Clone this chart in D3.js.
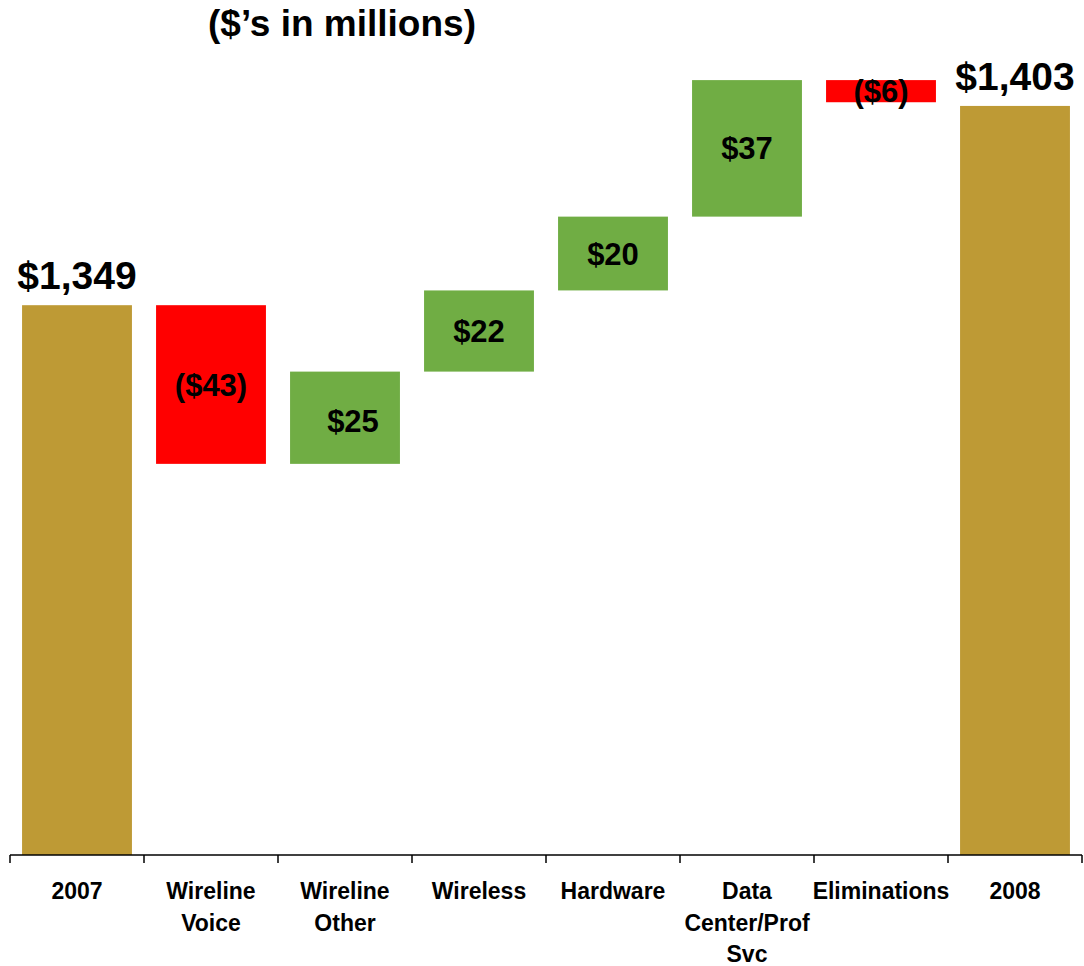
<!DOCTYPE html>
<html>
<head>
<meta charset="utf-8">
<script src="https://cdn.jsdelivr.net/npm/d3@7"></script>
<style>
  html, body { margin: 0; padding: 0; background: #fff; }
  svg { display: block; font-family: "Liberation Sans", Arial, sans-serif; font-weight: bold; }
</style>
</head>
<body>
<svg id="chart" width="1084" height="966"></svg>
<script>
// Revenue bridge, 2007 to 2008 ($ in millions)
const categories = ["2007", "Wireline Voice", "Wireline Other", "Wireless", "Hardware", "Data Center/Prof Svc", "Eliminations", "2008"];
const categoryLines = [["2007"], ["Wireline", "Voice"], ["Wireline", "Other"], ["Wireless"], ["Hardware"], ["Data", "Center/Prof", "Svc"], ["Eliminations"], ["2008"]];
const values = [1349, -43, 25, 22, 20, 37, -6, 1403];
const kinds = ["total", "delta", "delta", "delta", "delta", "delta", "delta", "total"];
const valueLabels = ["$1,349", "($43)", "$25", "$22", "$20", "$37", "($6)", "$1,403"];

const colors = { total: "#BE9A35", up: "#70AD44", down: "#FF0000" };

// Build running start/end for each step of the bridge
let running = 0;
const bars = categories.map((c, i) => {
  let y0, y1;
  if (kinds[i] === "total") { y0 = 1200; y1 = values[i]; running = values[i]; }
  else { y0 = running; y1 = running + values[i]; running = y1; }
  return { cat: c, lines: categoryLines[i], kind: kinds[i], v: values[i], y0, y1, label: valueLabels[i] };
});

const svg = d3.select("#chart");
const baseY = 855;

const x = d3.scaleBand().domain(categories).range([10, 1082]).paddingInner(0.18).paddingOuter(0.09);
const y = d3.scaleLinear().domain([1200, 1410]).range([baseY, baseY - 210 * 3.69]);

// Title
svg.append("text")
  .attr("x", 342).attr("y", 36)
  .attr("text-anchor", "middle")
  .attr("font-size", 37)
  .text("($\u2019s in millions)");

// Bars
svg.append("g").selectAll("rect").data(bars).join("rect")
  .attr("x", d => x(d.cat))
  .attr("width", x.bandwidth())
  .attr("y", d => y(Math.max(d.y0, d.y1)))
  .attr("height", d => Math.abs(y(d.y0) - y(d.y1)))
  .attr("fill", d => d.kind === "total" ? colors.total : (d.v >= 0 ? colors.up : colors.down));

// Value labels: totals sit above the bar, steps are centred inside
svg.append("g").selectAll("text").data(bars).join("text")
  .attr("text-anchor", "middle")
  .attr("x", d => x(d.cat) + x.bandwidth() / 2 + (d.cat === "Wireline Other" ? 8 : 0))
  .attr("y", d => d.kind === "total"
    ? y(d.y1) - 16
    : (y(d.y0) + y(d.y1)) / 2 + 11 + (d.cat === "Wireline Other" ? 3 : 0))
  .attr("font-size", d => d.kind === "total" ? 39 : 31)
  .attr("fill", "#000")
  .text(d => d.label);

// Category axis with ticks at band boundaries
const axis = svg.append("g");
const step = x.step();
axis.append("line")
  .attr("x1", 10).attr("x2", 1082)
  .attr("y1", baseY).attr("y2", baseY)
  .attr("stroke", "#000").attr("stroke-width", 1.5);
const bounds = categories.map(c => x(c) + x.bandwidth() / 2 - step / 2).concat([x(categories[categories.length - 1]) + x.bandwidth() / 2 + step / 2]);
axis.selectAll("line.tick").data(bounds).join("line")
  .attr("class", "tick")
  .attr("x1", d => d).attr("x2", d => d)
  .attr("y1", baseY).attr("y2", baseY + 8)
  .attr("stroke", "#000").attr("stroke-width", 1.5);

const labels = axis.selectAll("text").data(bars).join("text")
  .attr("text-anchor", "middle")
  .attr("font-size", 23)
  .attr("fill", "#000");
labels.selectAll("tspan").data(d => d.lines.map(l => ({ l, cx: x(d.cat) + x.bandwidth() / 2 }))).join("tspan")
  .attr("x", d => d.cx)
  .attr("y", (d, i) => 899 + i * 31.5)
  .text(d => d.l);
</script>
</body>
</html>
